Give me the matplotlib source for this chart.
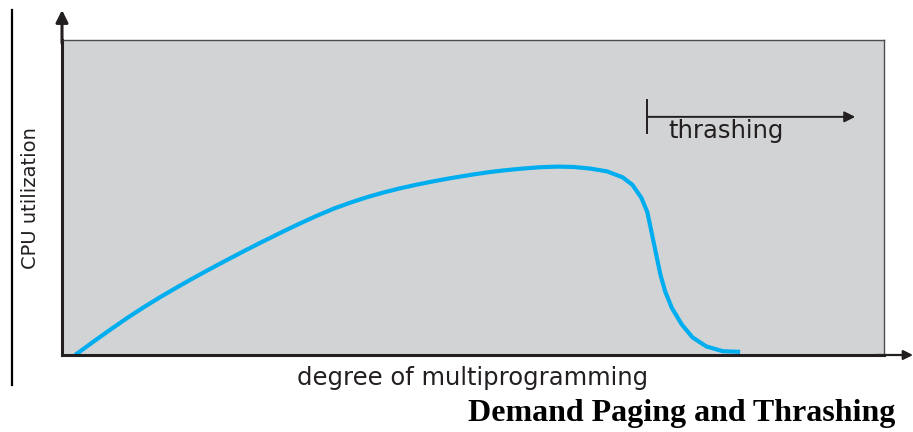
import matplotlib.pyplot as plt
from matplotlib.lines import Line2D

# curve (degree of multiprogramming vs CPU utilization, 0-100 scale)
degree = [1.6, 3.8, 5.8, 7.9, 9.9, 11.9, 14.0, 15.9, 18.0, 20.1, 22.0, 24.1,
          26.9, 28.9, 31.0, 33.0, 35.0, 37.1, 39.0, 41.1, 43.2, 45.1, 47.2,
          50.0, 52.1, 54.1, 56.1, 58.1, 60.2, 62.2, 64.2, 66.3, 68.2, 69.4,
          70.5, 71.2, 71.6, 72.0, 72.4, 72.8, 73.4, 74.2, 75.4, 76.7, 78.4,
          80.4, 82.5]
cpu_util = [0.0, 4.2, 7.9, 11.7, 15.1, 18.3, 21.5, 24.3, 27.3, 30.2, 32.8, 35.6,
            39.2, 41.7, 44.2, 46.4, 48.3, 50.1, 51.5, 52.9, 54.1, 55.1, 56.1,
            57.3, 58.1, 58.7, 59.2, 59.6, 59.8, 59.7, 59.2, 58.3, 56.4, 54.0,
            49.8, 45.4, 40.5, 35.5, 30.5, 25.5, 20.0, 14.9, 9.7, 5.6, 2.7,
            1.2, 1.0]

thrash_start = 71.2
thrash_end = 96.5
thrash_level = 75.6

W, H = 913, 432
fig = plt.figure(figsize=(W / 100, H / 100), dpi=100)
fig.patch.set_facecolor("white")

# grey plot box: x 62..884 px, y 40..355 px
ax = fig.add_axes([62 / W, (H - 355) / H, (884 - 62) / W, (355 - 40) / H])
ax.set_facecolor("#d1d3d4")
ax.set_xlim(0, 100)
ax.set_ylim(0, 100)
ax.set_xticks([])
ax.set_yticks([])
for s in ["top", "right"]:
    ax.spines[s].set_color("#4d4d4f")
    ax.spines[s].set_linewidth(1.0)
for s in ["left", "bottom"]:
    ax.spines[s].set_color("#231f20")
    ax.spines[s].set_linewidth(2.2)

ax.plot(degree, cpu_util, color="#00aeef", lw=3.0, solid_capstyle="butt",
        solid_joinstyle="round", clip_on=False)

# axis arrows
ax.annotate("", xy=(0, (355 - 10) / 315), xytext=(0, 0.99), xycoords="axes fraction",
            arrowprops=dict(arrowstyle="-|>", lw=2.2, color="#231f20", mutation_scale=18,
                            shrinkA=0, shrinkB=0), annotation_clip=False)
ax.annotate("", xy=((913 - 62) / 822, 0), xytext=(0.99, 0), xycoords="axes fraction",
            arrowprops=dict(arrowstyle="-|>", lw=1.6, color="#231f20", mutation_scale=14,
                            shrinkA=0, shrinkB=0), annotation_clip=False)

# thrashing marker
ax.plot([thrash_start, thrash_start], [70.5, 81.0], color="#231f20", lw=1.4)
ax.annotate("", xy=(thrash_end, thrash_level), xytext=(thrash_start, thrash_level),
            arrowprops=dict(arrowstyle="-|>", lw=1.4, color="#231f20", mutation_scale=16,
                            shrinkA=0, shrinkB=0))
ax.text(thrash_start + 2.6, 71.0, "thrashing", fontsize=17.5, color="#231f20",
        family="DejaVu Sans", va="center", ha="left")

# labels
fig.text(30 / W, 1 - 198 / H, "CPU utilization", rotation=90, fontsize=14,
         color="#231f20", family="DejaVu Sans", ha="center", va="center")
fig.text(473 / W, 1 - 378 / H, "degree of multiprogramming", fontsize=17.5,
         color="#231f20", family="DejaVu Sans", ha="center", va="center")
fig.text(895 / W, 1 - 413 / H, "Demand Paging and Thrashing", fontsize=23,
         fontweight="bold", family="Liberation Serif", ha="right", va="center")

# separator line on the far left
fig.add_artist(Line2D([12 / W, 12 / W], [1 - 10 / H, 1 - 385 / H],
                      transform=fig.transFigure, color="black", lw=1.6))

fig.savefig("out.png", dpi=100)
